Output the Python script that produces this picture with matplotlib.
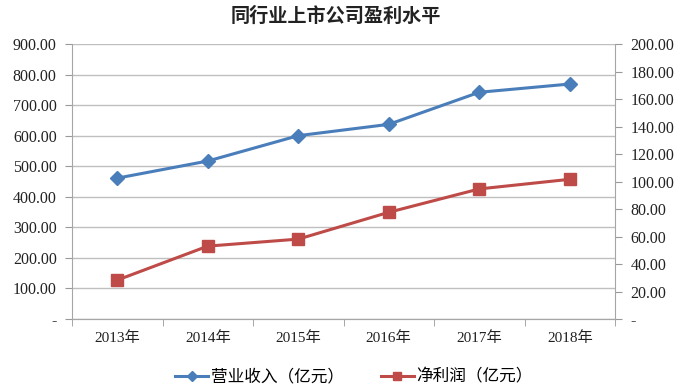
import matplotlib
matplotlib.use("Agg")
import matplotlib.pyplot as plt
from matplotlib.ticker import FuncFormatter, MultipleLocator

years = ["2013年", "2014年", "2015年", "2016年", "2017年", "2018年"]
revenue = [461, 517, 600, 637, 742, 769]
net_profit = [28.3, 53.0, 58.1, 77.6, 94.6, 101.6]
title = "同行业上市公司盈利水平"
label_rev = "营业收入（亿元）"
label_np = "净利润（亿元）"

blue = "#4A7EBB"
red = "#BE4B48"
fam = ["Liberation Serif", "Noto Sans CJK SC"]
plt.rcParams['font.family'] = fam

fig = plt.figure(figsize=(6.92, 3.92), dpi=100)
ax = fig.add_axes([72/692, 1-319/392, (615-72)/692, (319-44)/392])
ax2 = ax.twinx()

x = list(range(len(years)))
l1, = ax.plot(x, revenue, color=blue, lw=2.2, marker="D", ms=7, label=label_rev, zorder=3)
l2, = ax2.plot(x, net_profit, color=red, lw=2.2, marker="s", ms=8, label=label_np, zorder=3)

ax.set_xlim(-0.5, len(years) - 0.5)
ax.set_ylim(0, 900)
ax2.set_ylim(0, 200)
ax.yaxis.set_major_locator(MultipleLocator(100))
ax2.yaxis.set_major_locator(MultipleLocator(20))
fmt = FuncFormatter(lambda v, p: "-" if abs(v) < 1e-9 else f"{v:.2f}")
ax.yaxis.set_major_formatter(fmt)
ax2.yaxis.set_major_formatter(fmt)

ax.set_xticks(x)
ax.set_xticklabels(years)
ax.set_xticks([i - 0.5 for i in range(len(years) + 1)], minor=True)
ax.tick_params(axis="x", which="major", length=0, pad=9, labelsize=11, colors="#222222")
ax.tick_params(axis="x", which="minor", length=5, color="#999999", direction="out")
ax.tick_params(axis="y", length=5, color="#999999", labelsize=11.5, labelcolor="#222222", pad=6)
ax2.tick_params(axis="y", length=5, color="#999999", labelsize=11.5, labelcolor="#222222", pad=6)

ax.grid(axis="y", color="#BFBFBF", lw=1)
ax.set_axisbelow(True)
for a in (ax, ax2):
    a.spines["top"].set_visible(False)
    for s in ("left", "right", "bottom"):
        a.spines[s].set_color("#A6A6A6")
ax2.spines["left"].set_visible(False)
ax.spines["right"].set_visible(False)

fig.text(336/692, 1-16/392, title, ha="center", va="center", fontsize=13.8, fontweight="bold",
         family=["Noto Sans CJK SC"], color="#222222")

fig.legend(handles=[l1, l2], loc="center", bbox_to_anchor=(354/692, 1-377/392), ncol=2,
           frameon=False, handlelength=2.0, handletextpad=0.15, columnspacing=2.2,
           markerscale=0.8, prop={"family": ["Noto Sans CJK SC"], "size": 12})

fig.savefig("out.png", dpi=100)
